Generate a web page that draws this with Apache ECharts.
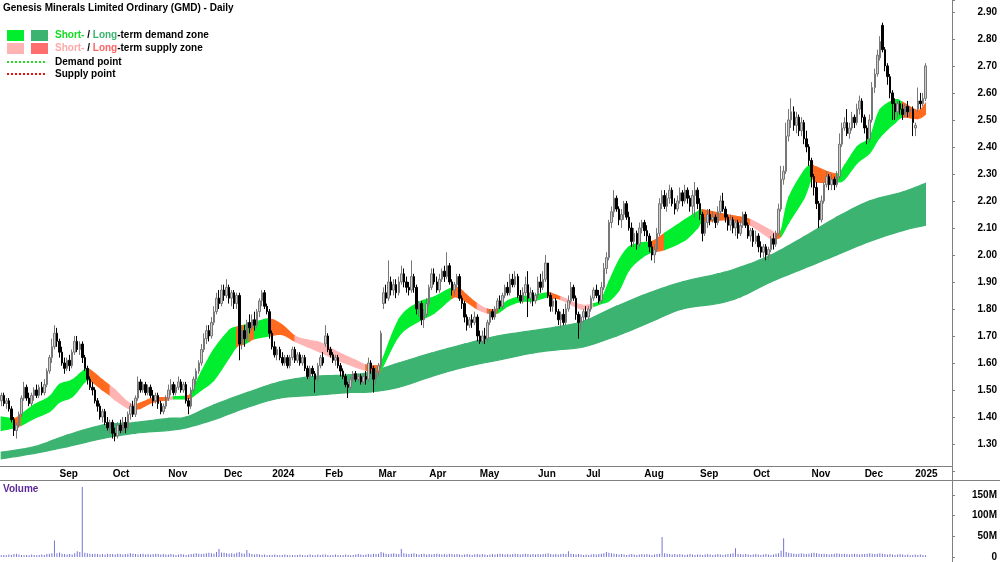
<!DOCTYPE html>
<html>
<head>
<meta charset="utf-8">
<script src="https://cdn.jsdelivr.net/npm/echarts@6/dist/echarts.min.js"></script>
<style>
  html, body { margin: 0; padding: 0; background: #fff; }
  #main { width: 1000px; height: 562px; }
</style>
</head>
<body>
<div id="main"></div>
<script>
// ASX trading calendar, 1 Aug 2023 .. 8 Jan 2025
var holidays = ['2023-12-25', '2023-12-26', '2024-01-01', '2024-01-26', '2024-03-29', '2024-04-01',
  '2024-04-25', '2024-06-10', '2024-12-25', '2024-12-26', '2025-01-01'];
var monthNames = ['Jan', 'Feb', 'Mar', 'Apr', 'May', 'Jun', 'Jul', 'Aug', 'Sep', 'Oct', 'Nov', 'Dec'];

// daily candles: [open, close, low, high]
var ohlc = [
  // Aug 2023
  [1.46,1.48,1.44,1.49],[1.48,1.45,1.44,1.49],[1.45,1.46,1.43,1.47],[1.46,1.43,1.42,1.47],[1.43,1.39,1.38,1.44],
  [1.39,1.35,1.33,1.40],[1.35,1.37,1.32,1.38],[1.37,1.41,1.36,1.42],[1.41,1.47,1.40,1.48],[1.47,1.51,1.46,1.53],
  [1.51,1.47,1.46,1.52],[1.47,1.45,1.44,1.49],[1.45,1.48,1.44,1.49],[1.48,1.50,1.46,1.51],[1.50,1.48,1.47,1.52],
  [1.48,1.51,1.47,1.52],[1.51,1.49,1.48,1.53],[1.49,1.52,1.48,1.54],[1.52,1.57,1.51,1.58],[1.57,1.62,1.56,1.63],
  [1.62,1.66,1.60,1.69],[1.66,1.71,1.65,1.74],[1.71,1.68,1.66,1.73],
  // Sep
  [1.68,1.64,1.62,1.69],[1.64,1.60,1.59,1.66],[1.60,1.58,1.56,1.62],[1.58,1.61,1.57,1.62],[1.61,1.59,1.57,1.63],
  [1.59,1.64,1.58,1.65],[1.64,1.68,1.63,1.70],[1.68,1.65,1.64,1.70],[1.65,1.67,1.63,1.68],[1.67,1.62,1.60,1.68],
  [1.62,1.58,1.57,1.63],[1.58,1.54,1.52,1.59],[1.54,1.51,1.50,1.55],[1.51,1.50,1.48,1.53],[1.50,1.46,1.45,1.51],
  [1.46,1.44,1.42,1.47],[1.44,1.40,1.39,1.45],[1.40,1.42,1.38,1.43],[1.42,1.38,1.37,1.43],[1.38,1.36,1.35,1.40],
  [1.36,1.38,1.34,1.39],
  // Oct
  [1.38,1.34,1.32,1.39],[1.34,1.33,1.31,1.36],[1.33,1.37,1.32,1.38],[1.37,1.35,1.34,1.39],[1.35,1.38,1.34,1.40],
  [1.38,1.36,1.34,1.40],[1.36,1.41,1.35,1.42],[1.41,1.44,1.39,1.45],[1.44,1.41,1.40,1.46],[1.41,1.47,1.40,1.48],
  [1.47,1.53,1.46,1.55],[1.53,1.50,1.49,1.54],[1.50,1.52,1.49,1.53],[1.52,1.49,1.48,1.53],[1.49,1.51,1.48,1.52],
  [1.51,1.48,1.47,1.52],[1.48,1.46,1.44,1.50],[1.46,1.48,1.45,1.49],[1.48,1.45,1.43,1.49],[1.45,1.42,1.41,1.46],
  [1.42,1.44,1.41,1.45],[1.44,1.47,1.43,1.48],
  // Nov
  [1.47,1.50,1.46,1.52],[1.50,1.52,1.48,1.54],[1.52,1.49,1.48,1.53],[1.49,1.51,1.48,1.52],[1.51,1.53,1.50,1.55],
  [1.53,1.50,1.49,1.54],[1.50,1.52,1.49,1.53],[1.52,1.46,1.45,1.53],[1.46,1.44,1.41,1.47],[1.44,1.50,1.43,1.51],
  [1.50,1.54,1.49,1.55],[1.54,1.57,1.52,1.58],[1.57,1.60,1.56,1.61],[1.60,1.65,1.59,1.67],[1.65,1.69,1.64,1.71],
  [1.69,1.72,1.67,1.74],[1.72,1.70,1.68,1.74],[1.70,1.75,1.69,1.77],[1.75,1.79,1.74,1.81],[1.79,1.84,1.78,1.86],
  [1.84,1.82,1.80,1.87],[1.82,1.87,1.81,1.89],
  // Dec
  [1.87,1.85,1.83,1.89],[1.85,1.88,1.84,1.91],[1.88,1.84,1.82,1.89],[1.84,1.86,1.81,1.87],[1.86,1.82,1.80,1.87],
  [1.82,1.85,1.80,1.86],[1.85,1.67,1.61,1.86],[1.67,1.72,1.65,1.74],[1.72,1.69,1.66,1.74],[1.69,1.75,1.68,1.76],
  [1.75,1.73,1.71,1.78],[1.73,1.76,1.72,1.78],[1.76,1.74,1.72,1.79],[1.74,1.79,1.73,1.80],[1.79,1.83,1.77,1.84],
  [1.83,1.86,1.81,1.87],[1.86,1.81,1.80,1.87],[1.81,1.79,1.78,1.82],[1.79,1.71,1.69,1.80],
  // Jan 2024
  [1.71,1.66,1.65,1.72],[1.66,1.63,1.62,1.68],[1.63,1.65,1.61,1.66],[1.65,1.62,1.61,1.66],[1.62,1.60,1.59,1.64],
  [1.60,1.62,1.59,1.63],[1.62,1.59,1.58,1.63],[1.59,1.62,1.58,1.63],[1.62,1.65,1.61,1.66],[1.65,1.61,1.60,1.66],
  [1.61,1.63,1.60,1.64],[1.63,1.60,1.59,1.64],[1.60,1.62,1.59,1.63],[1.62,1.58,1.57,1.63],[1.58,1.55,1.54,1.59],
  [1.55,1.58,1.54,1.59],[1.58,1.56,1.55,1.59],[1.56,1.54,1.49,1.57],[1.54,1.59,1.53,1.60],[1.59,1.62,1.58,1.63],
  [1.62,1.60,1.59,1.64],
  // Feb
  [1.67,1.70,1.66,1.74],[1.70,1.65,1.64,1.71],[1.65,1.63,1.62,1.66],[1.63,1.61,1.60,1.64],[1.61,1.62,1.59,1.63],
  [1.62,1.59,1.58,1.63],[1.59,1.57,1.55,1.60],[1.57,1.55,1.54,1.58],[1.55,1.52,1.51,1.56],[1.52,1.51,1.47,1.53],
  [1.51,1.54,1.50,1.55],[1.54,1.56,1.53,1.57],[1.56,1.54,1.53,1.57],[1.54,1.55,1.53,1.56],[1.55,1.53,1.52,1.56],
  [1.53,1.55,1.52,1.56],[1.55,1.54,1.52,1.57],[1.54,1.60,1.53,1.62],[1.60,1.58,1.56,1.61],[1.58,1.54,1.49,1.59],
  [1.54,1.57,1.52,1.58],
  // Mar
  [1.57,1.59,1.55,1.60],[1.59,1.71,1.58,1.72],[1.82,1.86,1.80,1.88],[1.86,1.84,1.82,1.89],[1.84,1.90,1.83,1.98],
  [1.90,1.87,1.85,1.92],[1.87,1.89,1.85,1.91],[1.89,1.86,1.84,1.91],[1.86,1.90,1.85,1.92],[1.90,1.93,1.89,1.96],
  [1.93,1.90,1.88,1.95],[1.90,1.88,1.86,1.92],[1.88,1.87,1.85,1.90],[1.87,1.92,1.86,1.98],[1.92,1.88,1.86,1.93],
  [1.88,1.80,1.78,1.89],[1.80,1.82,1.77,1.83],[1.82,1.76,1.74,1.83],[1.76,1.78,1.73,1.80],[1.78,1.82,1.77,1.84],
  // Apr
  [1.82,1.88,1.81,1.89],[1.88,1.93,1.87,1.95],[1.93,1.90,1.89,1.95],[1.90,1.87,1.86,1.92],[1.87,1.91,1.86,1.93],
  [1.91,1.94,1.90,1.95],[1.94,1.92,1.90,1.96],[1.92,1.96,1.91,2.01],[1.96,1.90,1.89,1.97],[1.90,1.87,1.85,1.91],
  [1.87,1.89,1.85,1.90],[1.89,1.92,1.88,1.93],[1.92,1.84,1.83,1.93],[1.84,1.82,1.80,1.85],[1.82,1.77,1.75,1.83],
  [1.77,1.74,1.72,1.78],[1.74,1.76,1.73,1.77],[1.76,1.75,1.73,1.78],[1.75,1.77,1.74,1.79],[1.77,1.70,1.68,1.78],
  // May
  [1.70,1.68,1.67,1.72],[1.68,1.70,1.67,1.72],[1.70,1.69,1.67,1.73],[1.69,1.75,1.68,1.76],[1.75,1.79,1.74,1.80],
  [1.79,1.77,1.76,1.80],[1.77,1.80,1.76,1.81],[1.80,1.83,1.79,1.84],[1.83,1.81,1.80,1.85],[1.81,1.85,1.80,1.86],
  [1.85,1.88,1.84,1.89],[1.88,1.86,1.85,1.90],[1.86,1.91,1.85,1.93],[1.91,1.89,1.88,1.93],[1.89,1.92,1.88,1.94],
  [1.92,1.85,1.84,1.93],[1.85,1.83,1.82,1.87],[1.83,1.86,1.82,1.88],[1.86,1.89,1.85,1.92],[1.89,1.84,1.77,1.94],
  [1.84,1.86,1.82,1.88],[1.86,1.83,1.81,1.87],[1.83,1.85,1.82,1.86],
  // Jun
  [1.85,1.90,1.84,1.92],[1.90,1.88,1.86,1.93],[1.88,1.91,1.87,1.94],[1.91,1.97,1.90,2.00],[1.97,1.85,1.84,1.97],
  [1.85,1.81,1.79,1.86],[1.81,1.83,1.79,1.84],[1.83,1.79,1.78,1.84],[1.79,1.76,1.74,1.80],[1.76,1.78,1.73,1.79],
  [1.78,1.75,1.74,1.80],[1.75,1.80,1.74,1.82],[1.80,1.83,1.79,1.85],[1.83,1.88,1.82,1.90],[1.88,1.84,1.83,1.89],
  [1.84,1.78,1.76,1.85],[1.78,1.75,1.69,1.79],[1.75,1.77,1.72,1.78],[1.77,1.79,1.75,1.80],
  // Jul
  [1.79,1.77,1.76,1.81],[1.77,1.80,1.76,1.81],[1.80,1.84,1.79,1.85],[1.84,1.87,1.83,1.88],[1.87,1.85,1.84,1.89],
  [1.85,1.83,1.82,1.87],[1.83,1.88,1.82,1.90],[1.88,1.95,1.87,1.97],[1.95,1.99,1.93,2.01],[1.99,2.12,1.98,2.13],
  [2.12,2.16,2.10,2.18],[2.16,2.21,2.14,2.24],[2.21,2.17,2.16,2.22],[2.17,2.13,2.11,2.18],[2.13,2.15,2.10,2.17],
  [2.15,2.19,2.13,2.20],[2.19,2.14,2.13,2.20],[2.14,2.10,2.09,2.16],[2.10,2.05,2.03,2.12],[2.05,2.08,2.03,2.10],
  [2.08,2.04,2.02,2.09],[2.04,2.10,2.03,2.12],[2.10,2.12,2.08,2.13],
  // Aug
  [2.12,2.09,2.07,2.13],[2.09,2.07,2.05,2.11],[2.07,2.03,2.01,2.08],[2.03,2.00,1.98,2.05],[2.00,2.02,1.97,2.04],
  [2.02,2.08,2.01,2.10],[2.08,2.19,2.07,2.21],[2.19,2.22,2.17,2.24],[2.22,2.18,2.17,2.24],[2.18,2.21,2.16,2.23],
  [2.21,2.24,2.19,2.26],[2.24,2.19,2.18,2.25],[2.19,2.17,2.15,2.21],[2.17,2.20,2.16,2.22],[2.20,2.23,2.19,2.25],
  [2.23,2.20,2.18,2.24],[2.20,2.24,2.19,2.26],[2.24,2.21,2.19,2.25],[2.21,2.18,2.16,2.22],[2.18,2.22,2.15,2.24],
  [2.22,2.24,2.14,2.27],[2.24,2.19,2.17,2.25],
  // Sep
  [2.19,2.15,2.13,2.21],[2.15,2.08,2.05,2.16],[2.08,2.12,2.07,2.14],[2.12,2.15,2.10,2.17],[2.15,2.13,2.11,2.17],
  [2.13,2.14,2.12,2.16],[2.14,2.12,2.10,2.15],[2.12,2.16,2.11,2.18],[2.16,2.20,2.15,2.22],[2.20,2.17,2.16,2.23],
  [2.17,2.14,2.12,2.18],[2.14,2.11,2.09,2.15],[2.11,2.13,2.09,2.15],[2.13,2.10,2.08,2.14],[2.10,2.12,2.07,2.13],
  [2.12,2.08,2.06,2.13],[2.08,2.11,2.07,2.13],[2.11,2.15,2.10,2.16],[2.15,2.11,2.10,2.16],[2.11,2.07,2.06,2.12],
  [2.07,2.09,2.05,2.10],
  // Oct
  [2.09,2.05,2.03,2.10],[2.05,2.07,2.04,2.09],[2.07,2.03,2.01,2.08],[2.03,2.01,1.99,2.05],[2.01,2.03,1.99,2.04],
  [2.03,2.00,1.98,2.04],[2.00,2.02,1.98,2.03],[2.02,2.06,2.01,2.07],[2.06,2.04,2.02,2.08],[2.04,2.08,2.03,2.09],
  [2.08,2.17,2.07,2.19],[2.17,2.28,2.16,2.33],[2.28,2.31,2.26,2.33],[2.31,2.44,2.30,2.49],[2.44,2.50,2.42,2.54],
  [2.50,2.53,2.47,2.58],[2.53,2.48,2.46,2.55],[2.48,2.51,2.45,2.53],[2.51,2.46,2.44,2.52],[2.46,2.49,2.44,2.51],
  [2.49,2.43,2.41,2.50],[2.43,2.40,2.38,2.46],[2.40,2.35,2.33,2.41],
  // Nov
  [2.35,2.29,2.25,2.36],[2.29,2.25,2.22,2.30],[2.25,2.19,2.17,2.27],[2.19,2.13,2.10,2.20],[2.13,2.20,2.12,2.22],
  [2.20,2.26,2.19,2.27],[2.26,2.29,2.25,2.31],[2.29,2.26,2.24,2.30],[2.26,2.28,2.24,2.30],[2.28,2.26,2.24,2.29],
  [2.26,2.29,2.25,2.31],[2.29,2.41,2.28,2.45],[2.41,2.47,2.40,2.49],[2.47,2.49,2.46,2.51],[2.49,2.45,2.44,2.54],
  [2.45,2.47,2.43,2.49],[2.47,2.51,2.46,2.53],[2.51,2.49,2.47,2.52],[2.49,2.54,2.48,2.56],[2.54,2.57,2.52,2.59],
  [2.57,2.51,2.49,2.58],
  // Dec
  [2.51,2.47,2.45,2.52],[2.47,2.43,2.41,2.48],[2.43,2.50,2.42,2.52],[2.50,2.62,2.49,2.64],[2.62,2.67,2.60,2.69],
  [2.67,2.74,2.66,2.76],[2.73,2.79,2.72,2.81],[2.85,2.76,2.75,2.86],[2.76,2.70,2.68,2.77],[2.70,2.66,2.63,2.71],
  [2.66,2.60,2.58,2.67],[2.60,2.56,2.50,2.61],[2.56,2.53,2.50,2.58],[2.53,2.56,2.51,2.57],[2.56,2.54,2.52,2.57],
  [2.54,2.52,2.50,2.56],[2.52,2.55,2.51,2.56],[2.55,2.53,2.51,2.57],[2.53,2.54,2.51,2.55],[2.54,2.49,2.44,2.55],
  // Jan 2025
  [2.47,2.48,2.44,2.49],[2.54,2.57,2.53,2.62],[2.57,2.56,2.54,2.60],[2.56,2.58,2.55,2.60],[2.58,2.70,2.57,2.71]
];

// daily volume, millions of shares
var volume = [
  4,5,4,6,5,7,8,6,5,4,5,4,6,5,4,5,6,5,7,8,9,40,9,
  11,8,7,6,7,6,9,14,12,169,10,9,8,7,8,7,6,7,6,8,7,
  7,6,8,7,6,7,8,9,8,7,6,7,8,6,7,6,7,8,7,6,7,6,
  6,7,6,5,6,7,6,5,6,7,8,9,8,7,8,9,10,9,8,12,19,11,
  10,9,8,9,8,10,12,9,8,17,9,7,6,7,6,5,6,4,5,
  5,6,5,4,5,6,5,4,5,4,5,6,5,4,5,6,5,4,6,5,6,
  6,5,4,5,6,5,4,5,6,5,4,5,6,7,6,5,6,7,6,8,7,
  8,12,10,8,7,8,9,8,7,19,9,8,7,8,9,7,6,7,8,6,
  7,6,7,8,7,6,7,6,8,7,6,7,6,5,6,7,6,5,6,7,
  6,7,6,5,6,7,6,7,8,7,6,7,6,7,8,7,6,7,8,7,6,7,6,
  7,6,7,8,9,7,6,7,6,7,8,7,14,8,7,6,7,6,5,
  6,5,6,7,6,7,8,9,12,10,9,8,7,6,7,6,5,6,7,6,5,6,7,
  6,7,6,5,6,7,8,48,9,8,7,6,7,6,7,6,5,6,7,6,5,6,
  6,5,6,7,6,5,6,7,6,5,6,7,8,9,21,8,7,6,7,6,5,
  6,7,6,5,6,7,6,5,6,8,9,15,45,12,10,9,8,7,8,9,8,7,8,
  9,10,9,8,7,8,7,6,7,8,9,8,7,8,7,6,7,8,7,6,7,
  7,8,9,8,7,8,9,8,7,6,7,6,5,6,7,6,5,6,4,5,
  6,5,6,5,4
];

// short-term zone: [day index, upper, lower, zone]
var shortZone = [
  [0,1.40,1.35,'d'],[5,1.395,1.36,'o'],[8,1.41,1.37,'d'],[13,1.445,1.395,'d'],[19,1.475,1.42,'d'],
  [23,1.52,1.455,'d'],[28,1.537,1.475,'d'],[33,1.575,1.53,'d'],[35,1.575,1.535,'o'],[40,1.537,1.50,'o'],
  [43,1.515,1.48,'s'],[45,1.50,1.463,'s'],[50,1.455,1.433,'s'],[53,1.447,1.43,'o'],[55,1.452,1.432,'o'],
  [60,1.47,1.455,'o'],[66,1.472,1.463,'s'],[68,1.475,1.467,'d'],[73,1.478,1.467,'o'],[75,1.49,1.472,'d'],
  [79,1.566,1.50,'d'],[84,1.65,1.537,'d'],[90,1.72,1.62,'d'],[93,1.733,1.66,'o'],[96,1.74,1.67,'d'],
  [98,1.745,1.68,'o'],[100,1.75,1.69,'d'],[106,1.763,1.70,'o'],[111,1.74,1.705,'o'],[116,1.70,1.68,'s'],
  [121,1.685,1.66,'s'],[126,1.675,1.64,'s'],[133,1.64,1.61,'s'],[140,1.61,1.585,'s'],[144,1.593,1.573,'o'],
  [148,1.59,1.57,'o'],[150,1.60,1.575,'d'],[157,1.76,1.70,'d'],[164,1.82,1.75,'d'],[171,1.845,1.785,'d'],
  [178,1.878,1.84,'o'],[181,1.875,1.84,'o'],[184,1.85,1.825,'o'],[188,1.82,1.80,'s'],[192,1.80,1.785,'o'],
  [196,1.80,1.785,'d'],[200,1.83,1.81,'d'],[205,1.845,1.827,'d'],[210,1.85,1.83,'d'],[216,1.86,1.845,'o'],
  [218,1.855,1.84,'o'],[221,1.845,1.835,'s'],[229,1.815,1.80,'s'],[234,1.82,1.81,'d'],[237,1.835,1.82,'d'],
  [240,1.90,1.83,'d'],[244,1.98,1.87,'d'],[248,2.03,1.945,'d'],[253,2.045,1.99,'d'],[257,2.05,2.01,'o'],
  [262,2.08,2.02,'d'],[270,2.13,2.055,'d'],[275,2.16,2.10,'d'],[277,2.167,2.12,'o'],[286,2.15,2.13,'o'],
  [292,2.14,2.12,'o'],[296,2.13,2.11,'s'],[304,2.09,2.06,'s'],[306,2.08,2.06,'o'],[308,2.09,2.07,'d'],
  [311,2.21,2.12,'d'],[317,2.31,2.21,'d'],[320,2.333,2.28,'o'],[322,2.325,2.27,'o'],[330,2.30,2.27,'d'],
  [333,2.33,2.28,'d'],[338,2.40,2.34,'d'],[343,2.436,2.378,'d'],[347,2.536,2.436,'d'],[353,2.574,2.49,'d'],
  [356,2.565,2.51,'o'],[362,2.535,2.505,'o'],[365,2.56,2.52,'o']
];

// long-term zone: [day index, upper, lower]
var longZone = [
  [0,1.27,1.245],[13,1.29,1.265],[26,1.333,1.29],[40,1.37,1.32],[53,1.38,1.34],[66,1.395,1.35],
  [73,1.40,1.36],[84,1.445,1.39],[97,1.49,1.435],[110,1.53,1.47],[123,1.55,1.48],[137,1.556,1.49],
  [146,1.567,1.493],[157,1.60,1.51],[170,1.637,1.55],[183,1.67,1.585],[196,1.70,1.61],[210,1.72,1.637],
  [219,1.733,1.648],[230,1.755,1.66],[243,1.81,1.70],[256,1.86,1.75],[269,1.90,1.80],[283,1.93,1.82],
  [292,1.955,1.845],[304,2.00,1.90],[317,2.067,1.95],[330,2.14,2.00],[343,2.20,2.05],[356,2.233,2.09],
  [365,2.265,2.11]
];

var zoneColors = { d: '#00EE2E', o: '#FF6A1F', s: '#FFB4B4', l: '#3CB371' };
var font = 'Liberation Sans, Arial, sans-serif';

function buildDates() {
  var out = [];
  var d = new Date(Date.UTC(2023, 7, 1));
  while (out.length < ohlc.length + 10) {
    var wd = d.getUTCDay();
    var s = d.toISOString().slice(0, 10);
    if (wd !== 0 && wd !== 6 && holidays.indexOf(s) < 0) out.push(s);
    d.setUTCDate(d.getUTCDate() + 1);
  }
  return out;
}
var dates = buildDates();

function isMonthStart(i) {
  return i > 0 && dates[i].slice(5, 7) !== dates[i - 1].slice(5, 7);
}
function monthLabel(v) {
  var m = +v.slice(5, 7);
  return m === 1 ? v.slice(0, 4) : monthNames[m - 1];
}

// one filled piece of a zone between two neighbouring readings, edges drawn as a smooth spline
function zoneRenderer(rows, colorOf) {
  return function (params, api) {
    var i = params.dataIndex;
    if (i >= rows.length - 1) return null;
    var n = rows.length;
    function pt(k, col) {
      var r = rows[Math.max(0, Math.min(n - 1, k))];
      return api.coord([r[0], r[col]]);
    }
    function edge(col) {
      var p0 = pt(i - 1, col), p1 = pt(i, col), p2 = pt(i + 1, col), p3 = pt(i + 2, col);
      var out = [];
      for (var s = 0; s <= 8; s++) {
        var t = s / 8, t2 = t * t, t3 = t2 * t;
        var q = [0, 1].map(function (j) {
          return 0.5 * (2 * p1[j] + (p2[j] - p0[j]) * t +
            (2 * p0[j] - 5 * p1[j] + 4 * p2[j] - p3[j]) * t2 +
            (3 * p1[j] - p0[j] - 3 * p2[j] + p3[j]) * t3);
        });
        q[0] = Math.max(p1[0], Math.min(p2[0], q[0]));
        out.push(q);
      }
      return out;
    }
    var c = colorOf(rows[i]);
    return {
      type: 'polygon',
      shape: { points: edge(1).concat(edge(2).reverse()) },
      style: { fill: c, stroke: c, lineWidth: 1.2 }
    };
  };
}

var myChart = echarts.init(document.getElementById('main'));

var labelStyle = { color: '#000', fontWeight: 'bold', fontSize: 10, fontFamily: font };

myChart.setOption({
  animation: false,
  backgroundColor: '#fff',
  grid: [
    { left: 0, right: 48, top: 0, bottom: 91 },
    { left: 0, right: 48, top: 480, bottom: 4 }
  ],
  xAxis: [
    {
      type: 'category', data: dates, gridIndex: 0, offset: -5,
      axisLine: { lineStyle: { color: '#808080', width: 1 } },
      axisTick: { interval: function (i) { return isMonthStart(i); }, length: 4, lineStyle: { color: '#808080' } },
      axisLabel: Object.assign({
        interval: function (i) { return isMonthStart(i); },
        formatter: monthLabel, align: 'left', margin: 3
      }, labelStyle),
      splitLine: { show: false }
    },
    {
      type: 'category', data: dates, gridIndex: 1,
      axisLine: { show: false }, axisTick: { show: false }, axisLabel: { show: false }
    }
  ],
  yAxis: [
    {
      type: 'value', gridIndex: 0, position: 'right', min: 1.2, max: 2.944, interval: 0.1,
      axisLine: { show: false },
      axisTick: { show: true, length: 3, lineStyle: { color: '#808080' } },
      axisLabel: Object.assign({
        align: 'right', margin: 45,
        formatter: function (v) {
          var k = Math.round(v * 10);
          return (Math.abs(v * 10 - k) < 1e-6 && k >= 13 && k <= 29) ? v.toFixed(2) : '';
        }
      }, labelStyle),
      splitLine: { show: false }
    },
    {
      type: 'value', gridIndex: 1, position: 'right', min: 0, max: 185.7, interval: 50,
      axisLine: { show: false },
      axisTick: { show: true, length: 3, lineStyle: { color: '#808080' } },
      axisLabel: Object.assign({
        align: 'right', margin: 45,
        formatter: function (v) { return v % 50 === 0 ? (v === 0 ? '0' : v + 'M') : ''; }
      }, labelStyle),
      splitLine: { show: false }
    }
  ],
  graphic: [
    { type: 'line', shape: { x1: 952.5, y1: 0, x2: 952.5, y2: 562 }, style: { stroke: '#808080', lineWidth: 1 }, z: 100 },
    { type: 'line', shape: { x1: 0, y1: 480.5, x2: 1000, y2: 480.5 }, style: { stroke: '#808080', lineWidth: 1 }, z: 100 },
    { type: 'text', left: 3, top: 3, style: { text: 'Genesis Minerals Limited Ordinary (GMD) - Daily', font: 'bold 10px ' + font, fill: '#000' }, z: 100 },
    { type: 'rect', shape: { x: 7, y: 30, width: 17, height: 11 }, style: { fill: zoneColors.d }, z: 100 },
    { type: 'rect', shape: { x: 31, y: 30, width: 17, height: 11 }, style: { fill: zoneColors.l }, z: 100 },
    { type: 'rect', shape: { x: 7, y: 43, width: 17, height: 11 }, style: { fill: zoneColors.s }, z: 100 },
    { type: 'rect', shape: { x: 31, y: 43, width: 17, height: 11 }, style: { fill: '#FF6E6E' }, z: 100 },
    { type: 'line', shape: { x1: 7, y1: 62, x2: 45, y2: 62 }, style: { stroke: '#22DD22', lineWidth: 2, lineDash: [2, 2] }, z: 100 },
    { type: 'line', shape: { x1: 7, y1: 74, x2: 45, y2: 74 }, style: { stroke: '#EE1111', lineWidth: 2, lineDash: [2, 2] }, z: 100 },
    {
      type: 'text', left: 55, top: 30, z: 100,
      style: {
        text: '{g|Short-} / {l|Long}-term demand zone', font: 'bold 10px ' + font, fill: '#000',
        rich: { g: { fill: '#11DD22', font: 'bold 10px ' + font }, l: { fill: '#3CB371', font: 'bold 10px ' + font } }
      }
    },
    {
      type: 'text', left: 55, top: 43, z: 100,
      style: {
        text: '{p|Short-} / {r|Long}-term supply zone', font: 'bold 10px ' + font, fill: '#000',
        rich: { p: { fill: '#FFA8A8', font: 'bold 10px ' + font }, r: { fill: '#FF6464', font: 'bold 10px ' + font } }
      }
    },
    { type: 'text', left: 55, top: 57, style: { text: 'Demand point', font: 'bold 10px ' + font, fill: '#000' }, z: 100 },
    { type: 'text', left: 55, top: 69, style: { text: 'Supply point', font: 'bold 10px ' + font, fill: '#000' }, z: 100 },
    { type: 'text', left: 3, top: 484, style: { text: 'Volume', font: 'bold 10px ' + font, fill: '#5B2A9A' }, z: 100 }
  ],
  series: [
    {
      name: 'Long-term zone', type: 'custom', xAxisIndex: 0, yAxisIndex: 0, z: 1,
      renderItem: zoneRenderer(longZone, function () { return zoneColors.l; }),
      data: longZone.map(function (r) { return [r[0], r[1], r[2]]; }),
      encode: { x: 0, y: [1, 2] }, silent: true
    },
    {
      name: 'Short-term zone', type: 'custom', xAxisIndex: 0, yAxisIndex: 0, z: 2,
      renderItem: zoneRenderer(shortZone, function (r) { return zoneColors[r[3]]; }),
      data: shortZone.map(function (r) { return [r[0], r[1], r[2]]; }),
      encode: { x: 0, y: [1, 2] }, silent: true
    },
    {
      name: 'GMD', type: 'candlestick', xAxisIndex: 0, yAxisIndex: 0, z: 5,
      data: ohlc, barWidth: 2,
      itemStyle: { color: '#CDCDCD', color0: '#000000', borderColor: '#777777', borderColor0: '#000000', borderWidth: 1 }
    },
    {
      name: 'Volume', type: 'bar', xAxisIndex: 1, yAxisIndex: 1,
      data: volume, barWidth: 1, itemStyle: { color: '#7474D8' }
    }
  ]
});
</script>
</body>
</html>
